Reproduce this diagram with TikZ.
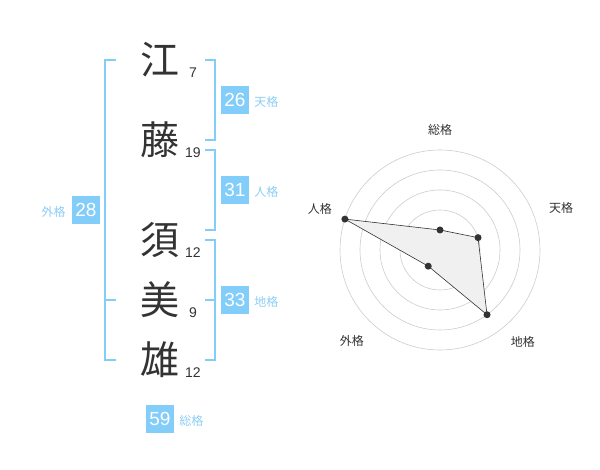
\documentclass[tikz,border=0pt]{standalone}
\usepackage{fontspec}
\setmainfont{Liberation Sans}
\newfontfamily\jpfont{Noto Sans CJK JP}
\usetikzlibrary{positioning, calc}
\definecolor{skyline}{RGB}{130,205,250}
\definecolor{skytext}{RGB}{140,205,245}
\definecolor{inkgray}{RGB}{51,51,51}

\begin{document}
\begin{tikzpicture}[x=1pt, y=1pt,
  kanji/.style={font=\jpfont\fontsize{39}{39}\selectfont, text=inkgray, inner sep=0pt},
  strokes/.style={font=\fontsize{14}{14}\selectfont, text=inkgray, anchor=base, inner sep=0pt},
  bracket/.style={draw=skyline, line width=2pt},
  score/.style={fill=skyline, text=white, minimum size=28pt, inner sep=0pt, font=\fontsize{19}{19}\selectfont},
  kaku/.style={text=skytext, inner sep=0pt, font=\jpfont\fontsize{12}{12}\selectfont},
  ring/.style={draw=gray!40, line width=0.6pt},
  axis/.style={text=inkgray, inner sep=0pt, font=\jpfont\fontsize{12}{12}\selectfont},
  dot/.style={circle, fill=inkgray, inner sep=0pt, minimum size=7pt}]

\useasboundingbox (0,0) rectangle (600,470);

% Characters

\node [kanji] (kanji1) at (160,410) {江};
\node [kanji] (kanji2) at (160,330) {藤};
\node [kanji] (kanji3) at (160,230) {須};
\node [kanji] (kanji4) at (160,170) {美};
\node [kanji] (kanji5) at (160,110) {雄};

\node [strokes] (strokes1) at ($(kanji1.base)+(33,-3)$) {7};
\node [strokes] (strokes2) at ($(kanji2.base)+(33,-3)$) {19};
\node [strokes] (strokes3) at ($(kanji3.base)+(33,-3)$) {12};
\node [strokes] (strokes4) at ($(kanji4.base)+(33,-3)$) {9};
\node [strokes] (strokes5) at ($(kanji5.base)+(33,-3)$) {12};

% Brackets

\draw[bracket] (116,410) -- (105,410) -- (105,110) -- (116,110);
\draw[bracket] (105,170) -- (116,170);
\draw[bracket] (205,410) -- (215,410) -- (215,330) -- (205,330);
\draw[bracket] (205,320) -- (215,320) -- (215,240) -- (205,240);
\draw[bracket] (205,230) -- (215,230) -- (215,110) -- (205,110);
\draw[bracket] (205,170) -- (215,170);

% Scores

\node [score] (tenkaku) at (235,370) {26};
\node [kaku, right=5pt of tenkaku.base east, anchor=base west] (tenkakulabel) {天格};

\node [score] (jinkaku) at (235,280) {31};
\node [kaku, right=5pt of jinkaku.base east, anchor=base west] (jinkakulabel) {人格};

\node [score] (chikaku) at (235,170) {33};
\node [kaku, right=5pt of chikaku.base east, anchor=base west] (chikakulabel) {地格};

\node [score] (gaikaku) at (86,260) {28};
\node [kaku, left=6pt of gaikaku.base west, anchor=base east] (gaikakulabel) {外格};

\node [score] (soukaku) at (160,51) {59};
\node [kaku, right=5pt of soukaku.base east, anchor=base west] (soukakulabel) {総格};

% Chart

\begin{scope}[shift={(440,220)}]
\foreach \r in {20,40,...,100}
  \draw[ring] (0,0) circle (\r);
\fill[gray!40] (0,0) circle (3);

\coordinate (soupt) at (90:20);
\coordinate (tenpt) at (18:40);
\coordinate (chipt) at (-54:80);
\coordinate (gaipt) at (-126:20);
\coordinate (jinpt) at (162:100);

\draw[fill=gray!12, draw=inkgray, line width=0.6pt] (soupt) -- (tenpt) -- (chipt) -- (gaipt) -- (jinpt) -- cycle;
\foreach \p in {soupt, tenpt, chipt, gaipt, jinpt}
  \node [dot] at (\p) {};

\node [axis] (souaxis) at (90:120) {総格};
\node [axis] (tenaxis) at (19:128) {天格};
\node [axis] (chiaxis) at (-48:124) {地格};
\node [axis] (gaiaxis) at (-134:127) {外格};
\node [axis] (jinaxis) at (161:127) {人格};
\end{scope}

\end{tikzpicture}
\end{document}
